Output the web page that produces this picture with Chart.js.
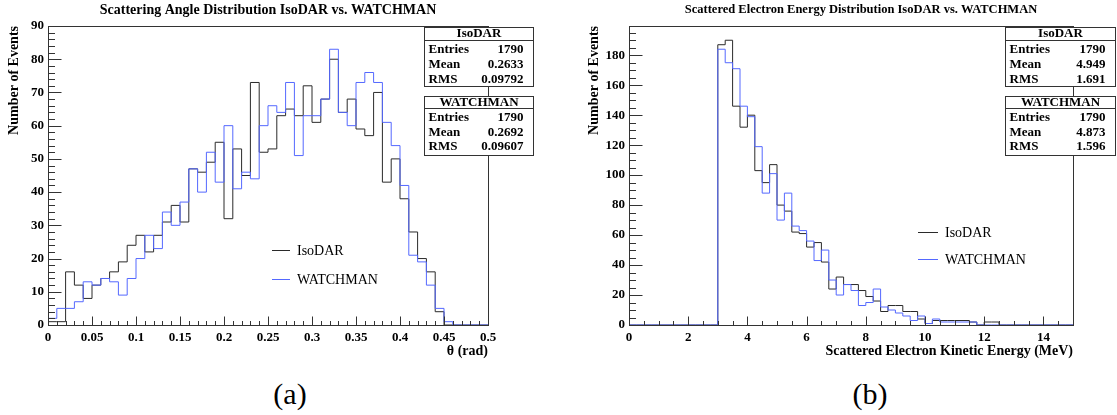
<!DOCTYPE html>
<html><head><meta charset="utf-8">
<script src="https://cdn.jsdelivr.net/npm/chart.js@4.4.1/dist/chart.umd.min.js"></script>
<style>
html,body{margin:0;padding:0;background:#fff}
body{width:1117px;height:415px;overflow:hidden;position:relative}
canvas{position:absolute;top:0}
#c1{left:0}
#c2{left:580px}
.cap{position:absolute;top:378px;width:100px;text-align:center;font:30px "Liberation Serif",serif;line-height:32px;color:#000}
</style></head><body>
<canvas id="c1" width="560" height="370"></canvas>
<canvas id="c2" width="537" height="370"></canvas>
<div class="cap" style="left:240px">(a)</div>
<div class="cap" style="left:820px">(b)</div>
<script>
// ---------- data ----------
const angleBinWidth = 0.01;
const angleIsoDAR = [1,1,16,12,8,12,14,16,19,24, 27,22,27,31,36,31,47,46,49,55, 32,53,45,73,52,53,63,65,63,72, 61,68,80,64,68,59,57,70,43,50, 38,28,20,16,4,0,0,0,0,0];
const angleWATCHMAN = [2,5,5,7,13,12,14,13,9,14, 20,27,23,34,30,37,47,40,52,43, 60,41,46,44,60,66,64,73,51,63, 63,68,83,64,60,73,76,73,61,54, 42,21,19,12,5,1,0,0,0,0];
const angleXTickLabels = ['0','0.05','0.1','0.15','0.2','0.25','0.3','0.35','0.4','0.45','0.5'];
const angleYTickLabels = ['0','10','20','30','40','50','60','70','80','90'];

const energyBinWidth = 0.25;
const energyIsoDAR = [0,0,0,0,0,0,0,0,0,0,0,0,
  187,190,146,132,140,103,95,107,80,76,
  62,61,52,55,42,24,32,27,27,23,
  19,16,9,13,13,9,9,4,1,3,
  3,3,3,3,2,0,2,2,
  0,0,0,0,0,0,0,0,0,0];
const energyWATCHMAN = [0,0,0,0,0,0,0,0,0,0,0,0,
  184,175,171,146,139,119,88,101,70,88,
  66,63,56,43,50,30,20,27,23,13,
  15,24,12,10,8,6,3,6,1,4,
  2,2,2,2,2,0,0,0,
  0,0,0,0,0,0,0,0,0,0];
const energyXTickLabels = ['0','2','4','6','8','10','12','14'];
const energyYTickLabels = ['0','20','40','60','80','100','120','140','160','180'];

const seriesNames = ['IsoDAR','WATCHMAN'];
const statRowLabels = ['Entries','Mean','RMS'];
const angleStats = [['1790','0.2633','0.09792'],['1790','0.2692','0.09607']];
const energyStats = [['1790','4.949','1.691'],['1790','4.873','1.596']];

// ---------- style ----------
const SERIF = '"Liberation Serif", "Times New Roman", serif';
const BLACK = '#2a2a2a';
const BLUE = '#5468ff';
const FRAME = '#333';

function histPoints(values, width) {
  const pts = values.map((v, i) => ({x: i * width, y: v}));
  pts.push({x: values.length * width, y: values[values.length - 1]});
  return pts;
}

const rootPlugin = {
  id: 'rootStyle',
  afterDraw(chart, args, o) {
    const {ctx, chartArea: a, scales: {x, y}} = chart;
    ctx.save();
    // frame
    ctx.strokeStyle = FRAME; ctx.lineWidth = 1;
    const L = Math.round(a.left) + 0.5, T = Math.round(a.top) + 0.5;
    const R = Math.round(a.right) + 0.5, B = Math.round(a.bottom) + 0.5;
    ctx.strokeRect(L, T, R - L, B - T);
    // inward ticks
    ctx.beginPath();
    const nx = Math.round((x.max - x.min) / o.xMinor);
    for (let i = 0; i <= nx; i++) {
      const p = Math.round(x.getPixelForValue(x.min + i * o.xMinor)) + 0.5;
      const len = (i % o.xPer === 0) ? o.xMajLen : o.xMajLen / 2;
      ctx.moveTo(p, B); ctx.lineTo(p, B - len);
    }
    const ny = Math.floor((y.max - y.min) / o.yMinor + 1e-6);
    for (let i = 0; i <= ny; i++) {
      const p = Math.round(y.getPixelForValue(y.min + i * o.yMinor)) + 0.5;
      const len = (i % o.yPer === 0) ? o.yMajLen : o.yMajLen / 2;
      ctx.moveTo(L, p); ctx.lineTo(L + len, p);
    }
    ctx.stroke();

    // title
    ctx.fillStyle = '#000';
    ctx.font = 'bold ' + o.titleSize + 'px ' + SERIF;
    ctx.textAlign = 'center'; ctx.textBaseline = 'middle';
    ctx.fillText(o.title, (a.left + a.right) / 2 + o.titleDx, o.titleY);

    // legend
    const ds = chart.data.datasets;
    ctx.font = '14px ' + SERIF;
    ctx.textAlign = 'left';
    o.legendRows.forEach((row, k) => {
      const d = ds.find(dd => dd.label === row);
      const yy = Math.round(a.top + o.legendY[k]) + 0.5;
      ctx.strokeStyle = d.borderColor; ctx.lineWidth = 1;
      ctx.beginPath();
      ctx.moveTo(a.left + o.legendX, yy); ctx.lineTo(a.left + o.legendX + o.legendLen, yy);
      ctx.stroke();
      ctx.fillStyle = '#000';
      ctx.fillText(row, a.left + o.legendTextX, yy + 1);
    });

    // stats boxes
    o.boxes.forEach((bx, k) => {
      const x0 = Math.round(a.right + o.boxX0) + 0.5, x1 = Math.round(a.right + o.boxX1) + 0.5;
      const y0 = Math.round(a.top + bx.top) + 0.5, y1 = Math.round(a.top + bx.bottom) + 0.5;
      const yl = Math.round(a.top + bx.line) + 0.5;
      ctx.fillStyle = '#fff';
      ctx.fillRect(x0, y0, x1 - x0, y1 - y0);
      ctx.strokeStyle = FRAME; ctx.lineWidth = 1;
      ctx.strokeRect(x0, y0, x1 - x0, y1 - y0);
      ctx.beginPath(); ctx.moveTo(x0, yl); ctx.lineTo(x1, yl); ctx.stroke();
      ctx.fillStyle = '#000';
      ctx.font = 'bold 13px ' + SERIF;
      ctx.textAlign = 'center';
      ctx.fillText(seriesNames[k], (x0 + x1) / 2, a.top + bx.titleY);
      statRowLabels.forEach((lab, r) => {
        const yy = a.top + bx.rows[r];
        ctx.textAlign = 'left';
        ctx.fillText(lab, x0 + 4, yy);
        ctx.textAlign = 'right';
        ctx.fillText(o.stats[k][r], x1 - 10, yy);
      });
    });
    ctx.restore();
  }
};

function makeChart(id, c) {
  const tickFont = {family: SERIF, size: 13, weight: 'bold'};
  const titleFont = {family: SERIF, size: 14, weight: 'bold'};
  return new Chart(document.getElementById(id), {
    type: 'line',
    data: {datasets: [
      {label: seriesNames[1], data: histPoints(c.wat, c.bw), borderColor: BLUE, borderWidth: 1,
       stepped: 'before', pointRadius: 0, fill: false, order: 0},
      {label: seriesNames[0], data: histPoints(c.iso, c.bw), borderColor: BLACK, borderWidth: 1,
       stepped: 'before', pointRadius: 0, fill: false, order: 1}
    ]},
    options: {
      responsive: false, animation: false, devicePixelRatio: 1,
      layout: {padding: {top: 26, right: c.padRight, left: 0, bottom: 0}},
      plugins: {legend: {display: false}, tooltip: {enabled: false}, title: {display: false},
        rootStyle: c.root},
      scales: {
        x: {type: 'linear', min: c.xMin, max: c.xMax,
          afterFit: s => { s.height = 45; },
          grid: {display: false, drawTicks: false}, border: {display: false},
          ticks: {stepSize: c.xStep, autoSkip: false, maxRotation: 0, padding: 5, color: '#000', font: tickFont,
            callback: v => { const i = Math.round((v - c.xMin) / c.xStep);
              return Math.abs(v - c.xMin - i * c.xStep) < 1e-6 ? (c.xLabels[i] ?? '') : ''; }},
          title: {display: true, text: c.xTitle, align: 'end', color: '#000', font: titleFont,
            padding: {top: 0, bottom: 10}}
        },
        y: {type: 'linear', min: 0, max: c.yMax,
          afterFit: s => { s.width = c.yWidth; },
          grid: {display: false, drawTicks: false}, border: {display: false},
          ticks: {stepSize: c.yStep, autoSkip: false, padding: 4, color: '#000', font: tickFont,
            callback: v => { const i = Math.round(v / c.yStep);
              return Math.abs(v - i * c.yStep) < 1e-6 ? (c.yLabels[i] ?? '') : ''; }},
          title: {display: true, text: 'Number of Events', align: 'end', color: '#000', font: titleFont,
            padding: {top: 6, bottom: 0}}
        }
      }
    },
    plugins: [rootPlugin]
  });
}

const boxLayout = [
  {top: 1, bottom: 60, line: 14, titleY: 8, rows: [24, 39, 54]},
  {top: 70, bottom: 129, line: 82, titleY: 77, rows: [92, 107, 121]}
];

makeChart('c1', {
  iso: angleIsoDAR, wat: angleWATCHMAN, bw: angleBinWidth,
  xMin: 0, xMax: 0.5, xStep: 0.05, xLabels: angleXTickLabels, xTitle: 'θ (rad)',
  yMax: 90, yStep: 10, yLabels: angleYTickLabels, yWidth: 48, padRight: 72,
  root: {xMinor: 0.01, xPer: 5, xMajLen: 9, yMinor: 2, yPer: 5, yMajLen: 13,
    title: 'Scattering Angle Distribution IsoDAR vs. WATCHMAN', titleSize: 14, titleDx: 0, titleY: 10,
    legendRows: ['IsoDAR', 'WATCHMAN'], legendX: 224, legendLen: 18, legendTextX: 249, legendY: [224, 253],
    boxX0: -64, boxX1: 45, boxes: boxLayout, stats: angleStats}
});

makeChart('c2', {
  iso: energyIsoDAR, wat: energyWATCHMAN, bw: energyBinWidth,
  xMin: 0, xMax: 15, xStep: 2, xLabels: energyXTickLabels, xTitle: 'Scattered Electron Kinetic Energy (MeV)',
  yMax: 199.5, yStep: 20, yLabels: energyYTickLabels, yWidth: 49, padRight: 44,
  root: {xMinor: 0.5, xPer: 4, xMajLen: 9, yMinor: 5, yPer: 4, yMajLen: 13,
    title: 'Scattered Electron Energy Distribution IsoDAR vs. WATCHMAN', titleSize: 12.5, titleDx: 10, titleY: 10,
    legendRows: ['IsoDAR', 'WATCHMAN'], legendX: 289, legendLen: 20, legendTextX: 316, legendY: [206, 233],
    boxX0: -68, boxX1: 42, boxes: boxLayout, stats: energyStats}
});
</script>
</body></html>
